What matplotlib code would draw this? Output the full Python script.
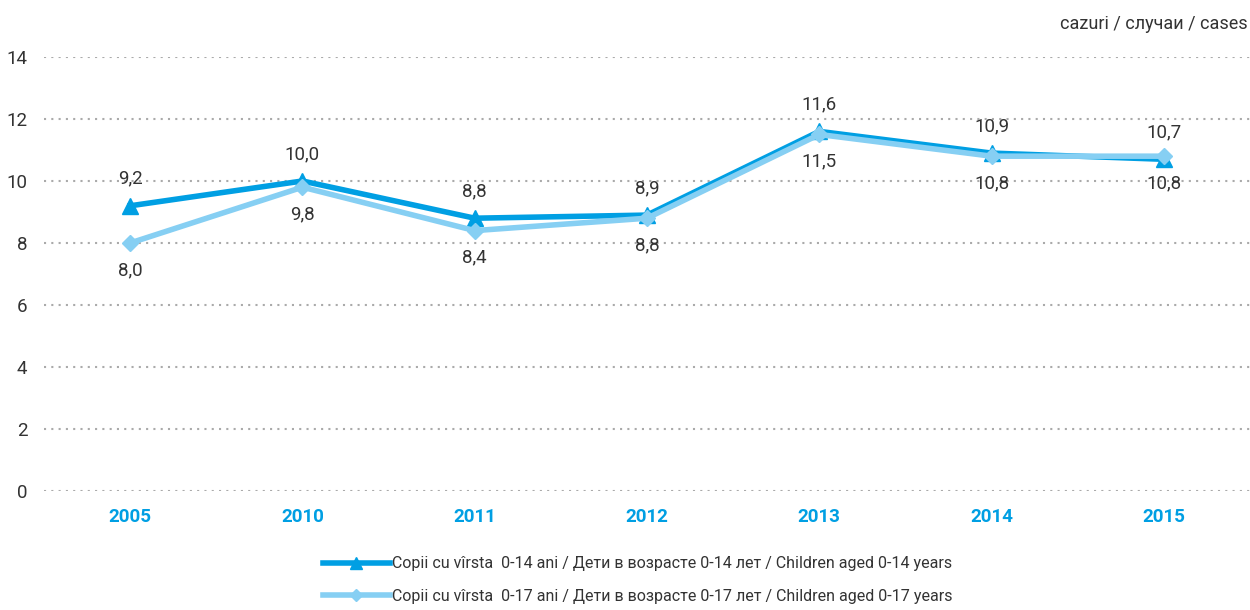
import matplotlib
matplotlib.use('Agg')
import matplotlib.pyplot as plt
from matplotlib.lines import Line2D

plt.rcParams['font.family'] = ['Roboto', 'DejaVu Sans']

years = ['2005', '2010', '2011', '2012', '2013', '2014', '2015']
aged_0_14 = [9.2, 10.0, 8.8, 8.9, 11.6, 10.9, 10.7]
aged_0_17 = [8.0, 9.8, 8.4, 8.8, 11.5, 10.8, 10.8]
label_0_14 = 'Copii cu vîrsta  0-14 ani / Дети в возрасте 0-14 лет / Children aged 0-14 years'
label_0_17 = 'Copii cu vîrsta  0-17 ani / Дети в возрасте 0-17 лет / Children aged 0-17 years'

dark = '#009FE3'
light = '#86CFF3'
txt = '#333333'

fig = plt.figure(figsize=(12.5, 6.1), dpi=100)
ax = fig.add_axes([0.0352, 0.195, 0.9648, 0.7116])

x = list(range(len(years)))
ax.plot(x, aged_0_14, color=dark, lw=4, marker='^', ms=11, zorder=3)
ax.plot(x, aged_0_17, color=light, lw=4, marker='D', ms=8, zorder=4)

for i in x:
    ax.annotate(f'{aged_0_14[i]:.1f}'.replace('.', ','), (i, aged_0_14[i]),
                xytext=(0, 13), textcoords='offset points', ha='center', va='bottom',
                fontsize=13.5, color=txt)
    ax.annotate(f'{aged_0_17[i]:.1f}'.replace('.', ','), (i, aged_0_17[i]),
                xytext=(0, -13), textcoords='offset points', ha='center', va='top',
                fontsize=13.5, color=txt)

ax.set_xlim(-0.5, 6.5)
ax.set_ylim(0, 14)
ax.set_yticks(range(0, 15, 2))
ax.set_xticks(x)
ax.set_xticklabels(years, fontsize=13.5, fontweight='bold', color=dark)
ax.tick_params(axis='y', labelsize=13.5, labelcolor=txt, length=0, pad=12)
ax.tick_params(axis='x', length=0, pad=12)
ax.yaxis.grid(True, linestyle=(0, (1, 2.5)), color='#aaaaaa', lw=1.5)
for s in ax.spines.values():
    s.set_visible(False)

fig.text(0.998, 0.96, 'cazuri / случаи / cases', ha='right', va='center', fontsize=13, color=txt)

handles = [Line2D([], [], color=dark, lw=4, marker='^', ms=9),
           Line2D([], [], color=light, lw=4, marker='D', ms=6)]
fig.legend(handles, [label_0_14, label_0_17], loc='center', bbox_to_anchor=(0.51, 0.049),
           frameon=False, fontsize=11.5, handlelength=4.2, handletextpad=0.1,
           labelspacing=1.1, labelcolor=txt)

fig.savefig('out.png', dpi=100)
